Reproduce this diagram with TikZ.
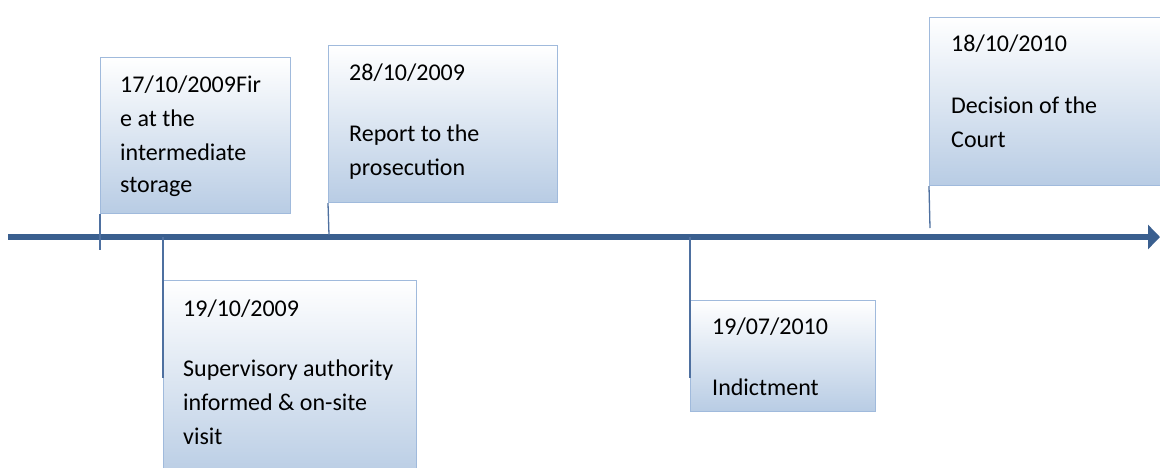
\documentclass[tikz,border=0pt]{standalone}
\usepackage{fontspec}
\setmainfont{Carlito}
\usetikzlibrary{arrows.meta}
\definecolor{axisblue}{RGB}{58,95,143}
\definecolor{leadblue}{RGB}{78,112,160}
\definecolor{boxedge}{RGB}{160,186,220}
\definecolor{boxbot}{RGB}{184,204,228}
\tikzset{
  evbox/.style={draw=boxedge, line width=1.2pt, top color=white, bottom color=boxbot, minimum width=#1, inner sep=0pt, anchor=north west},
  lead/.style={draw=leadblue, line width=1.3pt},
  txt/.style={anchor=base west, inner sep=0pt, font=\fontsize{24}{34}\selectfont, text=black},
}
\begin{document}
\begin{tikzpicture}[x=1pt,y=-1pt]
\useasboundingbox (0,0) rectangle (1160,467);
\clip (0,0) rectangle (1160,467);
% axis
\coordinate (a0) at (8,237);
\coordinate (a1) at (1160,237);
\draw[axisblue, line width=6pt, -{Triangle[length=12pt,width=24pt]}] (a0) -- (a1);
% boxes
\node[evbox=190pt, minimum height=156pt] (b1) at (100,57) {};
\node[evbox=253pt, minimum height=200pt] (b2) at (163,280) {};
\node[evbox=229pt, minimum height=157pt] (b3) at (328,45) {};
\node[evbox=185pt, minimum height=111pt] (b4) at (690,300) {};
\node[evbox=240pt, minimum height=168pt] (b5) at (929,17) {};
% leader ends
\coordinate (e1) at (100,250);
\coordinate (s2) at (163,237);
\coordinate (e2) at (163,378);
\coordinate (e3) at (329,235);
\coordinate (s4) at (690,237);
\coordinate (e4) at (690,378);
\coordinate (e5) at (930,228);
\draw[lead] (b1.south west) -- (e1);
\draw[lead] (s2) -- (e2);
\draw[lead] (b3.south west) -- (e3);
\draw[lead] (s4) -- (e4);
\draw[lead] (b5.south west) -- (e5);
% texts
\node[txt] (t1a) at (120,92) {17/10/2009Fir};
\node[txt] (t1b) at (120,126) {e at the};
\node[txt] (t1c) at (120,160) {intermediate};
\node[txt] (t1d) at (120,192) {storage};
\node[txt] (t2a) at (183,316) {19/10/2009};
\node[txt] (t2b) at (183,376) {Supervisory authority};
\node[txt] (t2c) at (183,410) {informed \& on-site};
\node[txt] (t2d) at (183,444) {visit};
\node[txt] (t3a) at (349,80) {28/10/2009};
\node[txt] (t3b) at (349,141) {Report to the};
\node[txt] (t3c) at (349,175) {prosecution};
\node[txt] (t4a) at (712,334) {19/07/2010};
\node[txt] (t4b) at (712,395) {Indictment};
\node[txt] (t5a) at (951,51) {18/10/2010};
\node[txt] (t5b) at (951,113) {Decision of the};
\node[txt] (t5c) at (951,147) {Court};
\end{tikzpicture}
\end{document}
